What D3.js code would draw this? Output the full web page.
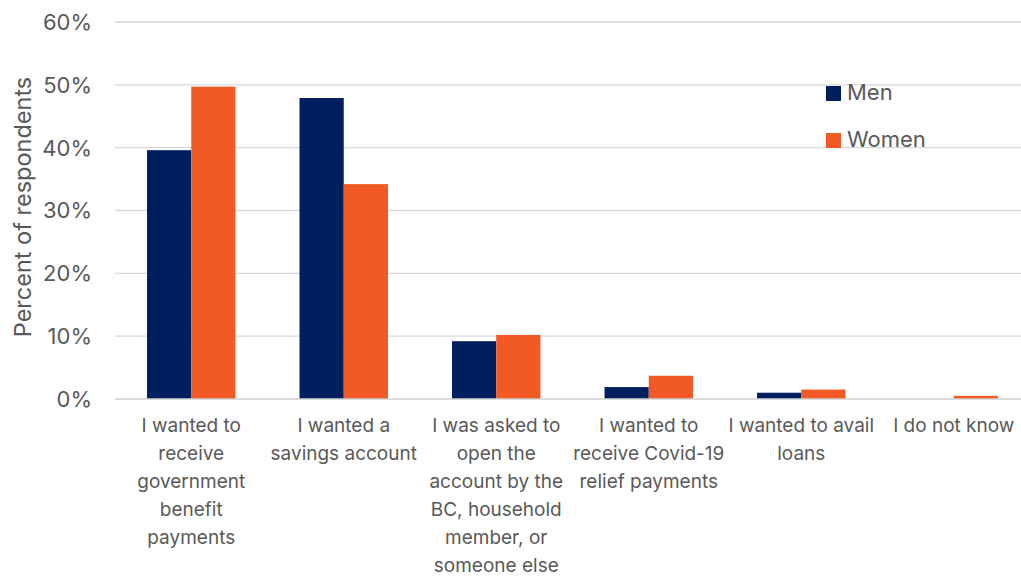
<!DOCTYPE html>
<html lang="en">
<head>
<meta charset="UTF-8">
<title>Reasons for opening account</title>
<style>
    body { margin: 0; padding: 0; background: #fff; overflow: hidden; }
    svg text { font-family: Inter, "Liberation Sans", Arial, sans-serif; fill: #595959; }
</style>
</head>
<body>
<svg id="chart"></svg>
<script src="https://d3js.org/d3.v7.min.js"></script>
<script>
    var categories = [
        ["I wanted to", "receive", "government", "benefit", "payments"],
        ["I wanted a", "savings account"],
        ["I was asked to", "open the", "account by the", "BC, household", "member, or", "someone else"],
        ["I wanted to", "receive Covid-19", "relief payments"],
        ["I wanted to avail", "loans"],
        ["I do not know"]
    ];
    var men = [39.6, 47.9, 9.2, 1.9, 1.0, 0];
    var women = [49.7, 34.2, 10.2, 3.7, 1.5, 0.5];
    var yTicks = [0, 10, 20, 30, 40, 50, 60];
    var seriesNames = ["Men", "Women"];
    var colors = ["#001f5f", "#f15a24"];

    var width = 1021, height = 579;
    // plot area runs slightly past the right edge, as in the original export
    var margin = {top: 22, bottom: 180, left: 115};
    var innerW = 915,
        innerH = height - margin.top - margin.bottom;

    var svg = d3.select("#chart").attr("width", width).attr("height", height);
    var g = svg.append("g").attr("transform", "translate(" + margin.left + "," + margin.top + ")");

    var x = d3.scaleBand().domain(d3.range(categories.length)).range([0, innerW]).paddingInner(0.42).paddingOuter(0.21);
    var xs = d3.scaleBand().domain(seriesNames).range([0, x.bandwidth()]);
    var y = d3.scaleLinear().domain([0, 60]).range([innerH, 0]);

    // gridlines
    g.selectAll(".grid").data(yTicks.slice(1)).enter().append("line")
        .attr("x1", 0).attr("x2", innerW)
        .attr("y1", function (d) { return y(d); }).attr("y2", function (d) { return y(d); })
        .attr("stroke", "#d9d9d9").attr("stroke-width", 1.3);

    // y tick labels
    g.selectAll(".ytick").data(yTicks).enter().append("text")
        .attr("x", -23).attr("y", function (d) { return y(d); })
        .attr("dy", "0.36em").attr("text-anchor", "end")
        .style("font-size", "22px")
        .text(function (d) { return d + "%"; });

    // bars
    var rows = categories.map(function (c, i) { return {i: i, vals: [men[i], women[i]]}; });
    var grp = g.selectAll(".cat").data(rows).enter().append("g")
        .attr("transform", function (d) { return "translate(" + x(d.i) + ",0)"; });
    grp.selectAll("rect").data(function (d) {
        return d.vals.map(function (v, k) { return {k: k, v: v}; });
    }).enter().append("rect")
        .attr("x", function (d) { return xs(seriesNames[d.k]); })
        .attr("width", xs.bandwidth())
        .attr("y", function (d) { return y(d.v); })
        .attr("height", function (d) { return innerH - y(d.v); })
        .attr("fill", function (d) { return colors[d.k]; });

    // baseline
    g.append("line").attr("x1", 0).attr("x2", innerW).attr("y1", innerH).attr("y2", innerH)
        .attr("stroke", "#d0d0d0").attr("stroke-width", 1.5);

    // category labels
    grp.append("text")
        .attr("text-anchor", "middle")
        .attr("transform", function (d) { return "translate(" + x.bandwidth() / 2 + "," + (innerH + 33) + ")"; })
        .style("font-size", "19px")
        .selectAll("tspan").data(function (d) { return categories[d.i]; }).enter().append("tspan")
        .attr("x", 0).attr("dy", function (d, i) { return i === 0 ? 0 : 28; })
        .text(function (d) { return d; });

    // y axis title
    svg.append("text")
        .attr("transform", "translate(31,207) rotate(-90)")
        .attr("text-anchor", "middle")
        .style("font-size", "23.5px")
        .text("Percent of respondents");

    // legend
    var leg = svg.append("g").attr("transform", "translate(826,86)");
    seriesNames.forEach(function (s, k) {
        leg.append("rect").attr("x", 0).attr("y", k * 47).attr("width", 15).attr("height", 15).attr("fill", colors[k]);
        leg.append("text").attr("x", 21).attr("y", k * 47 + 6).attr("dy", "0.36em")
            .style("font-size", "22px").text(s);
    });
</script>
</body>
</html>
